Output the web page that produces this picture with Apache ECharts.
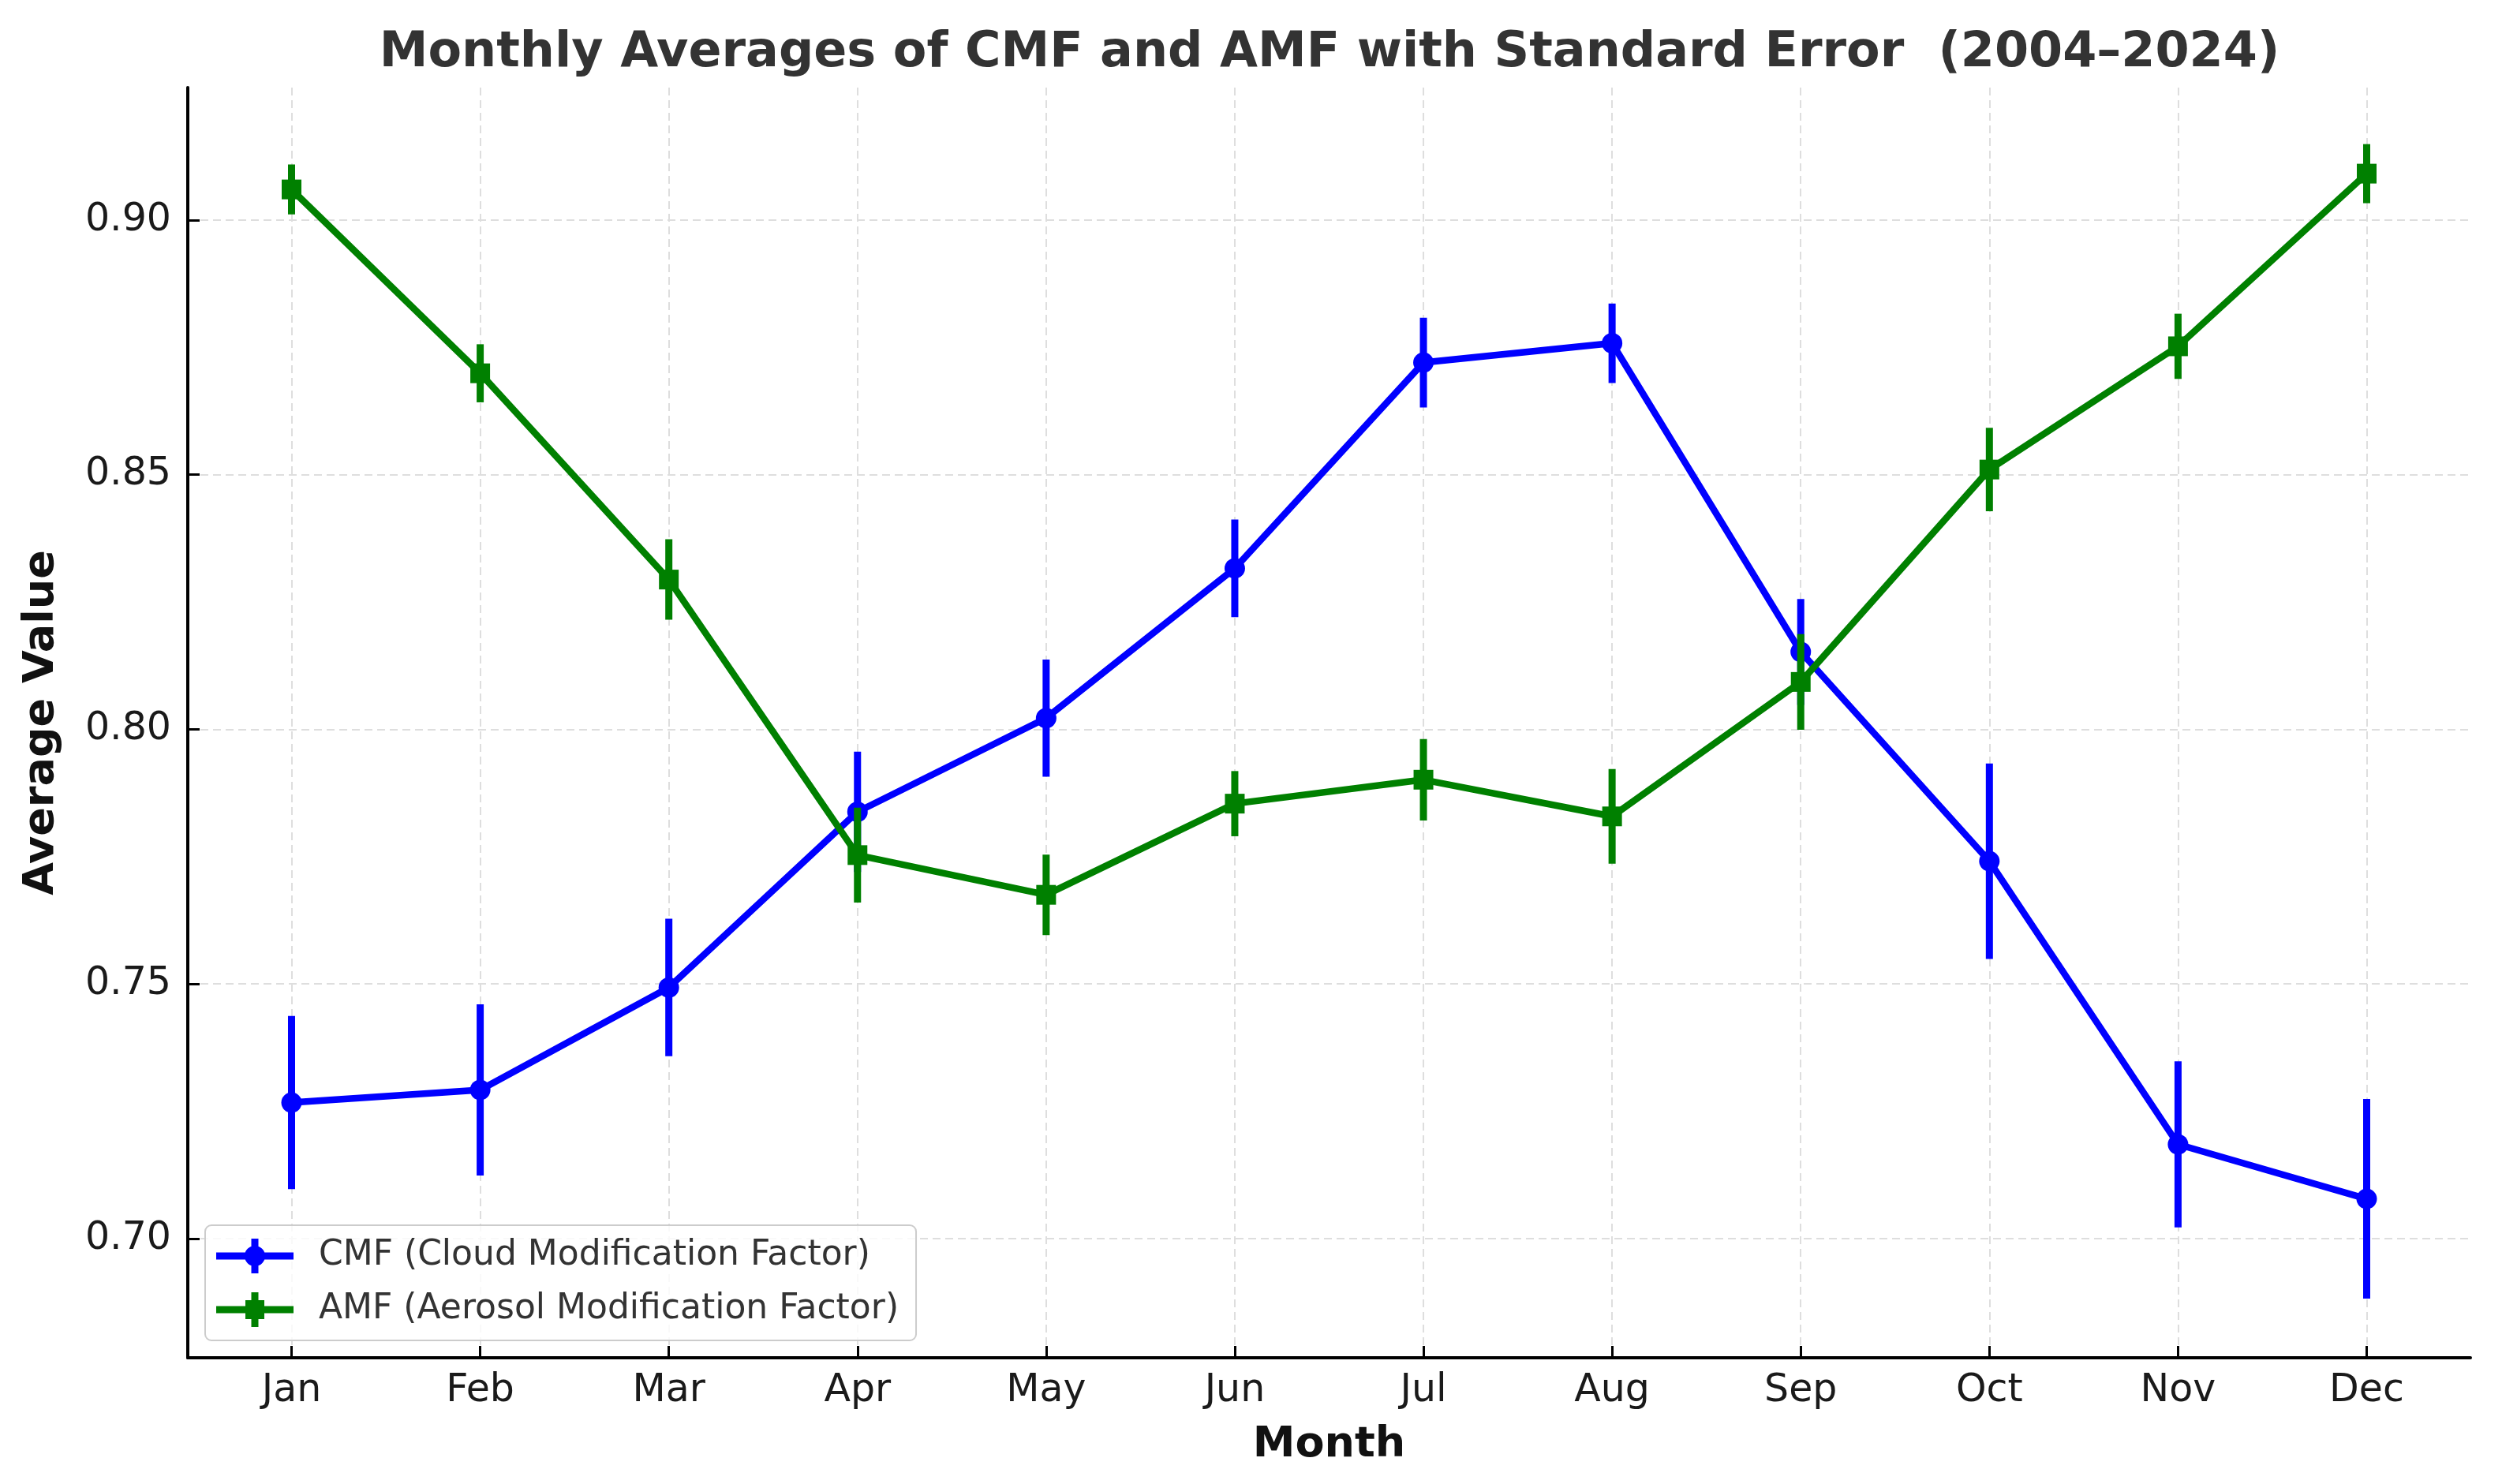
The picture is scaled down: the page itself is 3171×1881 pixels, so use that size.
<!DOCTYPE html>
<html>
<head>
<meta charset="utf-8">
<script src="https://cdn.jsdelivr.net/npm/echarts@6/dist/echarts.min.js"></script>
<style>
html,body{margin:0;padding:0;background:#fff;}
#chart{width:3171px;height:1881px;}
</style>
</head>
<body>
<div id="chart"></div>
<script>
const months = ['Jan','Feb','Mar','Apr','May','Jun','Jul','Aug','Sep','Oct','Nov','Dec'];
const cmfMean = [0.7267, 0.7292, 0.7493, 0.7838, 0.8022, 0.8316, 0.8720, 0.8758, 0.8152, 0.7741, 0.7185, 0.7078];
const cmfErr  = [0.0170, 0.0168, 0.0135, 0.0118, 0.0115, 0.0096, 0.0088, 0.0078, 0.0104, 0.0192, 0.0163, 0.0196];
const amfMean = [0.9060, 0.8699, 0.8294, 0.7753, 0.7675, 0.7854, 0.7901, 0.7829, 0.8093, 0.8510, 0.8752, 0.9091];
const amfErr  = [0.0049, 0.0057, 0.0079, 0.0093, 0.0079, 0.0064, 0.0080, 0.0093, 0.0094, 0.0082, 0.0064, 0.0058];
const yTicks = [0.70, 0.75, 0.80, 0.85, 0.90];
const monthIdx = months.map((m, i) => i);

const FONT = 'DejaVu Sans';
const BLUE = '#0000ff';
const GREEN = '#008000';

function lineData(mean) { return mean.map((v, i) => [i, v]); }
function errData(mean, err) { return mean.map((v, i) => [i, v - err[i], v + err[i]]); }
function errSeries(name, mean, err, color, z) {
  return {
    name: name,
    type: 'custom',
    data: errData(mean, err),
    z: z,
    silent: true,
    renderItem: function (params, api) {
      const p1 = api.coord([api.value(0), api.value(1)]);
      const p2 = api.coord([api.value(0), api.value(2)]);
      return {
        type: 'line',
        shape: { x1: p1[0], y1: p1[1], x2: p2[0], y2: p2[1] },
        style: { stroke: color, lineWidth: 9 }
      };
    }
  };
}

const chart = echarts.init(document.getElementById('chart'), null, { renderer: 'canvas', devicePixelRatio: 1 });
const cmfName = 'CMF (Cloud Modification Factor)';
const amfName = 'AMF (Aerosol Modification Factor)';

chart.setOption({
  backgroundColor: '#ffffff',
  animation: false,
  title: {
    text: 'Monthly Averages of CMF and AMF with Standard Error  (2004\u20132024)',
    left: 1680,
    top: 32,
    textAlign: 'center',
    textStyle: { fontFamily: FONT, fontSize: 62, fontWeight: 'bold', color: '#333333' }
  },
  grid: { left: 238, right: 40, top: 111, bottom: 160, containLabel: false },
  legend: {
    orient: 'vertical',
    left: 260,
    top: 1553,
    padding: [17, 22, 17, 14],
    itemGap: 24,
    itemWidth: 98,
    itemHeight: 44,
    backgroundColor: 'rgba(255,255,255,0.8)',
    borderColor: '#cccccc',
    borderWidth: 2,
    borderRadius: 8,
    textStyle: { fontFamily: FONT, fontSize: 44, color: '#333333', padding: [0, 0, 0, 27] },
    data: [
      { name: cmfName, icon: 'path://M0,17.5H98V26.5H0Z M44.5,0H53.5V44H44.5Z M36,22A13,13 0 1,1 62,22A13,13 0 1,1 36,22Z', itemStyle: { color: BLUE } },
      { name: amfName, icon: 'path://M0,17.5H98V26.5H0Z M44.5,0H53.5V44H44.5Z M37,10H61V34H37Z', itemStyle: { color: GREEN } }
    ]
  },
  xAxis: {
    type: 'value',
    min: -0.55,
    max: 11.55,
    name: 'Month',
    nameLocation: 'middle',
    nameGap: 84,
    nameTextStyle: { fontFamily: FONT, fontSize: 54, fontWeight: 'bold', color: '#111111' },
    axisLine: { show: true, onZero: false, lineStyle: { color: '#000000', width: 4 } },
    axisTick: { show: true, inside: true, length: 15, lineStyle: { color: '#000000', width: 3 }, customValues: monthIdx },
    axisLabel: {
      customValues: monthIdx,
      margin: 18,
      fontFamily: FONT, fontSize: 49, color: '#1a1a1a',
      formatter: function (v) { return months[Math.round(v)]; }
    },
    splitLine: { show: true, lineStyle: { color: '#dedede', width: 2, type: [10, 6] } }
  },
  yAxis: {
    type: 'value',
    min: 0.6766,
    max: 0.926,
    name: 'Average Value',
    nameLocation: 'middle',
    nameRotate: 90,
    nameGap: 158,
    nameTextStyle: { fontFamily: FONT, fontSize: 54, fontWeight: 'bold', color: '#111111' },
    axisLine: { show: true, onZero: false, lineStyle: { color: '#000000', width: 4 } },
    axisTick: { show: true, inside: true, length: 15, lineStyle: { color: '#000000', width: 3 }, customValues: yTicks },
    axisLabel: {
      customValues: yTicks,
      margin: 21,
      fontFamily: FONT, fontSize: 49, color: '#1a1a1a',
      formatter: function (v) { return v.toFixed(2); }
    },
    splitLine: { show: true, lineStyle: { color: '#dedede', width: 2, type: [10, 6] } }
  },
  series: [
    errSeries(cmfName, cmfMean, cmfErr, BLUE, 3),
    {
      name: cmfName, type: 'line', data: lineData(cmfMean), z: 4,
      symbol: 'circle', symbolSize: 26,
      lineStyle: { color: BLUE, width: 8.5 },
      itemStyle: { color: BLUE, borderWidth: 0 }
    },
    errSeries(amfName, amfMean, amfErr, GREEN, 5),
    {
      name: amfName, type: 'line', data: lineData(amfMean), z: 6,
      symbol: 'rect', symbolSize: 25,
      lineStyle: { color: GREEN, width: 8.5 },
      itemStyle: { color: GREEN, borderWidth: 0 }
    }
  ]
});
</script>
</body>
</html>
